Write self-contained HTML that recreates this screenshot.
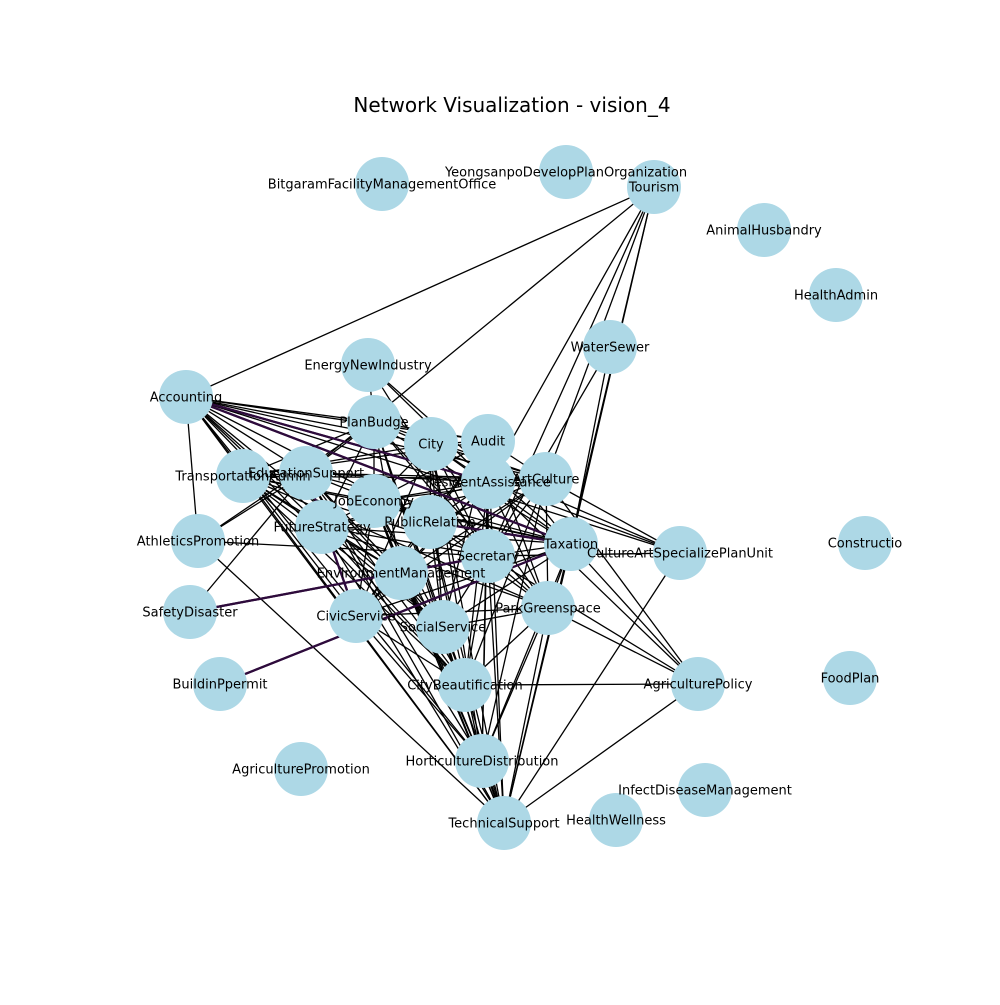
<!DOCTYPE html>
<html><head><meta charset="utf-8"><style>
html,body{margin:0;padding:0;background:#fff}
svg text{font-family:"DejaVu Sans","Liberation Sans",sans-serif}
</style></head><body>
<svg id="chart" width="1000" height="1000" viewBox="0 0 1000 1000" xmlns="http://www.w3.org/2000/svg">
<rect width="1000" height="1000" fill="#fff"/>
<text x="512" y="112" text-anchor="middle" font-size="20" fill="#000">Network Visualization - vision_4</text>
<g id="edges"></g>
<g id="nodes"></g>
<g id="labels"></g>
</svg>
<script>
const nodeNames = ["BitgaramFacilityManagementOffice","YeongsanpoDevelopPlanOrganization","Tourism","AnimalHusbandry","HealthAdmin","WaterSewer","EnergyNewIndustry","Accounting","PlanBudge","City","Audit","TransportationAdmin","EducationSupport","ResidentAssistance","ArtCulture","JobEconomy","FutureStrategy","PublicRelation","AthleticsPromotion","Taxation","Secretary","CultureArtSpecializePlanUnit","Constructio","EnvironmentManagement","SafetyDisaster","CivicService","SocialService","ParkGreenspace","BuildinPpermit","CityBeautification","AgriculturePolicy","FoodPlan","AgriculturePromotion","HorticultureDistribution","InfectDiseaseManagement","TechnicalSupport","HealthWellness"];
const nodeX = [382,566,654,764,836,610,368,186,374,431,488,243,306,488,546,374,322,430,198,571,488,680,865,401,190,356,443,548,220,465,698,850,301,482,705,504,616];
const nodeY = [184,172,187,230,295,347,365,397,422,444,441,476,473,482,479,501,527,522,541,544,556,553,543,573,612,616,627,608,684,685,684,678,769,761,790,823,820];
const labelText = ["BitgaramFacilityManagementOffice","YeongsanpoDevelopPlanOrganization","Tourism","AnimalHusbandry","HealthAdmin","WaterSewer","EnergyNewIndustry","Accounting","PlanBudge","City","Audit","TransportationAdmin","EducationSupport","ResidentAssistance","ArtCulture","JobEconomy","FutureStrategy","PublicRelation","AthleticsPromotion","Taxation","Secretary","CultureArtSpecializePlanUnit","Constructio","EnvironmentManagement","SafetyDisaster","CivicService","SocialService","ParkGreenspace","BuildinPpermit","CityBeautification","AgriculturePolicy","FoodPlan","AgriculturePromotion","HorticultureDistribution","InfectDiseaseManagement","TechnicalSupport","HealthWellness"];
const core = [7,8,9,10,11,12,13,14,15,16,17,19,20,23,25,26,27,29,33,35];
const extraEdges = [[2,7],[2,12],[2,13],[2,14],[2,19],[2,20],[2,35],[5,19],[5,20],[6,8],[6,13],[6,19],[6,20],[18,7],[18,35],[18,12],[18,8],[18,20],[24,20],[24,12],[28,19],[21,14],[21,13],[21,35],[21,20],[21,8],[21,7],[30,27],[30,19],[30,20],[30,13],[30,35],[30,29],[30,14]];
const purpleEdges = [[24,20],[28,19],[7,13],[7,19],[12,25],[17,19]];
const skipEvery = 4;
</script>
<script>
const svgNS="http://www.w3.org/2000/svg";
const eg=document.getElementById('edges'),ng=document.getElementById('nodes'),lg=document.getElementById('labels');
function sx(i){return nodeX[i];}
function sy(i){return nodeY[i];}
function isPurple(a,b){return purpleEdges.some(p=>(p[0]===a&&p[1]===b)||(p[0]===b&&p[1]===a));}
function addEdge(a,b){
  const l=document.createElementNS(svgNS,'line');
  l.setAttribute('x1',sx(a));l.setAttribute('y1',sy(a));l.setAttribute('x2',sx(b));l.setAttribute('y2',sy(b));
  const p=isPurple(a,b);
  l.setAttribute('stroke',p?'#2e0b3c':'#000');
  l.setAttribute('stroke-width',p?2.2:1.3);
  
  
  eg.appendChild(l);
}
let k=0;
for(let i=0;i<core.length;i++)for(let j=i+1;j<core.length;j++){k++;if(k%skipEvery===0)continue;addEdge(core[i],core[j]);}
extraEdges.forEach(e=>addEdge(e[0],e[1]));
purpleEdges.forEach(e=>addEdge(e[0],e[1]));
nodeNames.forEach((n,i)=>{
  const c=document.createElementNS(svgNS,'circle');
  c.setAttribute('cx',sx(i));c.setAttribute('cy',sy(i));c.setAttribute('r',27);c.setAttribute('fill','#add8e6');
  
  
  ng.appendChild(c);
  const t=document.createElementNS(svgNS,'text');
  t.setAttribute('x',sx(i));t.setAttribute('y',sy(i)+4.5);t.setAttribute('text-anchor','middle');t.setAttribute('font-size','13');
  t.textContent=labelText[i];
  
  
  lg.appendChild(t);
});
</script>
</body></html>
